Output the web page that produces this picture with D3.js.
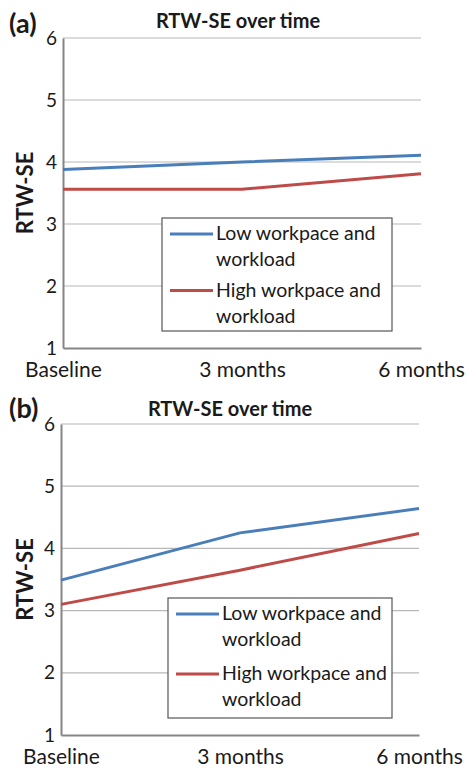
<!DOCTYPE html>
<html>
<head>
<meta charset="utf-8">
<script src="https://cdn.jsdelivr.net/npm/d3@7"></script>
<style>
  body { margin: 0; background: #fff; }
  text { font-family: Lato, "Open Sans", sans-serif; fill: #1a1a1a; }
</style>
</head>
<body>
<svg id="chart" width="467" height="768"></svg>
<script>
const categories = ["Baseline", "3 months", "6 months"]
const yTicks = [1, 2, 3, 4, 5, 6]
const seriesNames = [["Low workpace and", "workload"], ["High workpace and", "workload"]]
const seriesColors = ["#4a7ebb", "#be4b48"]
const lowA = [3.88, 4.0, 4.11]
const highA = [3.56, 3.56, 3.81]
const lowB = [3.49, 4.25, 4.64]
const highB = [3.1, 3.65, 4.24]

const svg = d3.select("#chart")

const panels = [
  { tag: "(a)", series: [lowA, highA], left: 63, right: 421, top: 38, bottom: 348,
    tagY: 33, titleX: 238, titleY: 28, legend: { x: 162, y: 218, w: 230, h: 113 } },
  { tag: "(b)", series: [lowB, highB], left: 61, right: 419, top: 424, bottom: 735,
    tagY: 418, titleX: 230, titleY: 416, legend: { x: 168, y: 598, w: 224, h: 120 } }
]

panels.forEach(p => {
  const g = svg.append("g")

  const x = d3.scalePoint().domain(categories).range([p.left, p.right])
  const y = d3.scaleLinear().domain([1, 6]).range([p.bottom, p.top])

  // grid
  g.append("g")
    .selectAll("line")
    .data(yTicks.slice(1))
    .join("line")
      .attr("x1", p.left)
      .attr("x2", p.right)
      .attr("y1", d => y(d))
      .attr("y2", d => y(d))
      .attr("stroke", "#b8b8b8")
      .attr("stroke-width", 1.2)

  // y axis
  const yAxis = g.append("g")
    .attr("transform", `translate(${p.left},0)`)
    .call(d3.axisLeft(y).tickValues(yTicks).tickSize(0).tickPadding(6).tickFormat(d3.format("d")))
  yAxis.select(".domain").attr("stroke", "#858585").attr("stroke-width", 2)
  yAxis.selectAll("text").style("font-size", "19px").attr("fill", "#1a1a1a")

  // x axis
  const xAxis = g.append("g")
    .attr("transform", `translate(0,${p.bottom})`)
    .call(d3.axisBottom(x).tickSize(0).tickPadding(14))
  xAxis.select(".domain").attr("stroke", "#858585").attr("stroke-width", 2)
  xAxis.selectAll("text").style("font-size", "21px").attr("fill", "#1a1a1a")

  // lines
  const line = d3.line()
    .x((d, i) => x(categories[i]))
    .y(d => y(d))
  g.selectAll(".series")
    .data(p.series)
    .join("path")
      .attr("class", "series")
      .attr("d", line)
      .attr("fill", "none")
      .attr("stroke", (d, i) => seriesColors[i])
      .attr("stroke-width", 3)

  // titles
  g.append("text")
    .attr("x", 9)
    .attr("y", p.tagY)
    .style("font-size", "27px")
    .style("font-weight", "bold")
    .text(p.tag)
  g.append("text")
    .attr("x", p.titleX)
    .attr("y", p.titleY)
    .attr("text-anchor", "middle")
    .style("font-size", "20px")
    .style("font-weight", "bold")
    .text("RTW-SE over time")
  g.append("text")
    .attr("transform", `translate(33,${(p.top + p.bottom) / 2}) rotate(-90)`)
    .attr("text-anchor", "middle")
    .style("font-size", "22px")
    .style("font-weight", "bold")
    .text("RTW-SE")

  // legend
  const lg = g.append("g").attr("transform", `translate(${p.legend.x},${p.legend.y})`)
  lg.append("rect")
    .attr("width", p.legend.w)
    .attr("height", p.legend.h)
    .attr("fill", "#fff")
    .attr("stroke", "#555")
    .attr("stroke-width", 1.2)
  const rowH = p.legend.h / 2
  seriesNames.forEach((name, i) => {
    const row = lg.append("g").attr("transform", `translate(0,${i * rowH})`)
    row.append("line")
      .attr("x1", 8).attr("x2", 51)
      .attr("y1", 16).attr("y2", 16)
      .attr("stroke", seriesColors[i])
      .attr("stroke-width", 3)
    row.append("text")
      .attr("x", 54)
      .attr("y", 22)
      .style("font-size", "19.5px")
      .selectAll("tspan")
      .data(name)
      .join("tspan")
        .attr("x", 54)
        .attr("dy", (d, j) => j ? 26 : 0)
        .text(d => d)
  })
})
</script>
</body>
</html>
